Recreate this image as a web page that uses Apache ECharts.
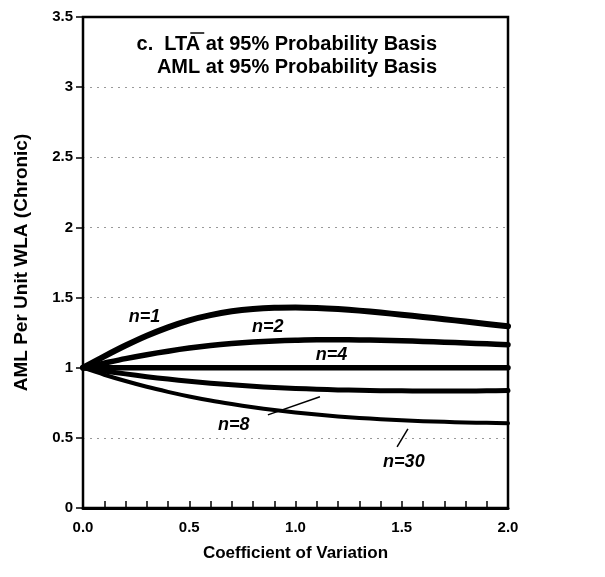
<!DOCTYPE html>
<html>
<head>
<meta charset="utf-8">
<script src="https://cdn.jsdelivr.net/npm/echarts@6/dist/echarts.min.js"></script>
<style>
html,body{margin:0;padding:0;background:#fff;}
#chart{width:605px;height:577px;}
</style>
</head>
<body>
<div id="chart"></div>
<script>
// Coefficient of Variation (x values)
const cv  = [0, 0.1, 0.2, 0.3, 0.4, 0.5, 0.6, 0.7, 0.8, 0.9, 1.0, 1.1, 1.2, 1.3, 1.4, 1.5, 1.6, 1.7, 1.8, 1.9, 2.0];
// AML per unit WLA for each n
const n1  = [1, 1.081, 1.158, 1.228, 1.288, 1.338, 1.375, 1.402, 1.419, 1.428, 1.430, 1.426, 1.418, 1.407, 1.393, 1.378, 1.362, 1.346, 1.329, 1.312, 1.296];
const n2  = [1, 1.033, 1.065, 1.093, 1.118, 1.140, 1.158, 1.172, 1.183, 1.191, 1.196, 1.199, 1.199, 1.198, 1.196, 1.192, 1.187, 1.182, 1.176, 1.170, 1.164];
const n4  = [1, 1, 1, 1, 1, 1, 1, 1, 1, 1, 1, 1, 1, 1, 1, 1, 1, 1, 1, 1, 1];
const n8  = [1, 0.977, 0.956, 0.936, 0.919, 0.903, 0.890, 0.878, 0.868, 0.859, 0.852, 0.847, 0.842, 0.839, 0.836, 0.835, 0.834, 0.834, 0.834, 0.835, 0.837];
const n30 = [1, 0.950, 0.905, 0.864, 0.828, 0.795, 0.766, 0.741, 0.718, 0.698, 0.681, 0.666, 0.653, 0.642, 0.633, 0.625, 0.619, 0.614, 0.610, 0.607, 0.604];
const yTicks = [0, 0.5, 1, 1.5, 2, 2.5, 3, 3.5];
const xTickLabels = ['0.0', '0.5', '1.0', '1.5', '2.0'];

// curve labels: [x, y, text]
const curveLabels = [
  [0.29, 1.36, 'n=1'],
  [0.87, 1.29, 'n=2'],
  [1.17, 1.09, 'n=4'],
  [0.71, 0.59, 'n=8'],
  [1.51, 0.33, 'n=30']
];
// leader lines
const leaderN8 = [[0.87, 0.664], [1.115, 0.793]];
const leaderN30 = [[1.478, 0.436], [1.529, 0.564]];

const FONT = '"Liberation Sans", Arial, Helvetica, sans-serif';
const TITLE1 = 'c.  LTA at 95% Probability Basis';
const TITLE2 = 'AML at 95% Probability Basis';
const TITLE_FONT = 'bold 20px "Liberation Sans", Arial, sans-serif';
const TITLE_RIGHT_X = 437;

function pairs(ys){ return cv.map((x,i)=>[x, ys[i]]); }
function curve(name, ys, w){
  return {
    name, type:'line', data: pairs(ys), smooth: 0.3, symbol:'none',
    lineStyle:{color:'#000', width:w, cap:'round', join:'round'}, z:3
  };
}

// measure text to place the overline above the "A" of LTA
const mc = document.createElement('canvas').getContext('2d');
mc.font = TITLE_FONT;
const wFull = mc.measureText(TITLE1).width;
const wLT = mc.measureText('c.  LT').width;
const wLTA = mc.measureText('c.  LTA').width;
const left1 = TITLE_RIGHT_X - wFull;
const olX1 = left1 + wLT + 3;
const olX2 = left1 + wLTA + 4;

const chart = echarts.init(document.getElementById('chart'), null, {renderer:'canvas'});
const option = {
  backgroundColor:'#fff',
  animation:false,
  grid:{left:83, right:97, top:17, bottom:69, show:true, borderColor:'#000', borderWidth:2.5, backgroundColor:'transparent'},
  xAxis:{
    type:'value', min:0, max:2, interval:0.1,
    name:'Coefficient of Variation', nameLocation:'middle', nameGap:37,
    nameTextStyle:{fontFamily:FONT, fontWeight:'bold', fontSize:17, color:'#000'},
    axisLine:{show:true, lineStyle:{color:'#000', width:3}},
    axisTick:{show:true, inside:true, length:7, lineStyle:{color:'#000', width:1.5}},
    axisLabel:{
      fontFamily:FONT, fontWeight:'bold', fontSize:15, color:'#000', margin:12,
      showMinLabel:true, showMaxLabel:true,
      formatter:function(v){
        const k = Math.round(v*2);
        if (Math.abs(v*2-k) < 1e-6) return xTickLabels[k];
        return '';
      }
    },
    splitLine:{show:false}
  },
  yAxis:{
    type:'value', min:0, max:3.5, interval:0.5,
    name:'AML Per Unit WLA (Chronic)', nameLocation:'middle', nameGap:52,
    nameTextStyle:{fontFamily:FONT, fontWeight:'bold', fontSize:19, color:'#000'},
    axisLine:{show:true, lineStyle:{color:'#000', width:2}},
    axisTick:{show:true, inside:false, length:7, lineStyle:{color:'#000', width:1.5}},
    axisLabel:{fontFamily:FONT, fontWeight:'bold', fontSize:15, color:'#000', margin:10,
      formatter:function(v){ return String(yTicks[Math.round(v*2)]); }},
    splitLine:{show:true, showMinLine:false, showMaxLine:false, lineStyle:{color:'#999', width:1, type:[2,5]}}
  },
  series:[
    curve('n=1', n1, 6),
    curve('n=2', n2, 5.5),
    curve('n=4', n4, 5.5),
    curve('n=8', n8, 5),
    curve('n=30', n30, 4),
    {
      type:'line', data:leaderN8, symbol:'none', lineStyle:{color:'#000', width:1.5}, z:2, silent:true
    },
    {
      type:'line', data:leaderN30, symbol:'none', lineStyle:{color:'#000', width:1.5}, z:2, silent:true
    },
    {
      type:'scatter', symbolSize:0, z:4, silent:true,
      itemStyle:{opacity:1},
      data: curveLabels.map(l=>({value:[l[0], l[1]], name:l[2]})),
      label:{show:true, position:'inside', formatter:'{b}', opacity:1,
        fontFamily:FONT, fontWeight:'bold', fontStyle:'italic', fontSize:18, color:'#000'}
    }
  ],
  graphic:[
    {type:'text', x:TITLE_RIGHT_X, y:34, z:10,
      style:{text:TITLE1, font:TITLE_FONT, fill:'#000', align:'right'}},
    {type:'text', x:TITLE_RIGHT_X, y:57, z:10,
      style:{text:TITLE2, font:TITLE_FONT, fill:'#000', align:'right'}},
    {type:'line', z:10, shape:{x1:olX1, y1:33, x2:olX2, y2:33}, style:{stroke:'#000', lineWidth:1.5}}
  ]
};
chart.setOption(option);
</script>
</body>
</html>
